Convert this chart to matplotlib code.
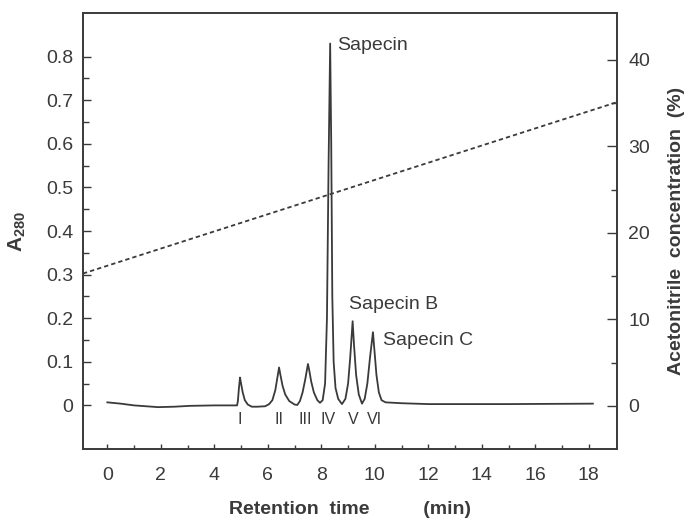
import matplotlib.pyplot as plt
import numpy as np

plt.rcParams['font.family'] = ['Liberation Sans', 'DejaVu Sans']

# chromatogram trace (time in min, A280)
time = [0, 0.5, 1.0, 1.9, 2.5, 3.1, 4.0, 4.85,
        4.88, 4.92, 4.96, 5.0, 5.06, 5.14, 5.25, 5.4, 5.6, 5.9, 6.05,
        6.17, 6.28, 6.36, 6.42, 6.47, 6.55, 6.65, 6.8, 7.0, 7.1,
        7.2, 7.3, 7.4, 7.5, 7.55, 7.62, 7.72, 7.85, 7.95, 8.05,
        8.14, 8.21, 8.27, 8.33, 8.37, 8.41, 8.46, 8.53, 8.63, 8.77,
        8.9, 9.0, 9.08, 9.17, 9.22, 9.3, 9.4, 9.52,
        9.62, 9.72, 9.82, 9.93, 9.98, 10.06, 10.15, 10.25, 10.4, 11, 12, 15, 18.15]
absorb = [0.007, 0.004, 0.0, -0.004, -0.003, -0.001, 0.0, 0.0,
          0.01, 0.04, 0.064, 0.05, 0.03, 0.012, 0.002, -0.003, -0.003, -0.002, 0.003,
          0.012, 0.035, 0.065, 0.087, 0.07, 0.045, 0.025, 0.01, 0.002, 0.001,
          0.01, 0.03, 0.06, 0.095, 0.08, 0.055, 0.03, 0.012, 0.006, 0.012,
          0.05, 0.2, 0.55, 0.83, 0.6, 0.25, 0.1, 0.04, 0.015, 0.003,
          0.015, 0.05, 0.11, 0.193, 0.14, 0.07, 0.025, 0.004,
          0.015, 0.05, 0.11, 0.168, 0.13, 0.07, 0.03, 0.012, 0.007, 0.005, 0.003, 0.003, 0.004]

# acetonitrile gradient (%)
grad_time = [-0.91, 19.05]
grad_conc = [15.3, 35.1]

peak_names = ['I', 'II', 'III', 'IV', 'V', 'VI']
peak_pos = [4.96, 6.42, 7.39, 8.25, 9.18, 9.97]

labels = ['Sapecin', 'Sapecin B', 'Sapecin C']
label_x = [8.59, 9.03, 10.3]
label_y = [0.825, 0.232, 0.149]

ink = '#3a3a3a'
fig = plt.figure(figsize=(6.87, 5.23), dpi=100)
ax = fig.add_axes([0.1208, 0.1415, 0.7772, 0.8336])
ax2 = ax.twinx()

ax.plot(time, absorb, color=ink, lw=1.3)
ax2.plot(grad_time, grad_conc, color=ink, lw=1.3, linestyle=(0, (2.4, 1.7)))

ax.set_xlim(-0.91, 19.05)
ax.set_ylim(-0.1, 0.9)
ax2.set_ylim(-4.97, 45.4)

ax.set_xticks(np.arange(0, 19, 2))
ax.set_xticks(np.arange(1, 18, 2), minor=True)
ax.set_yticks(np.arange(0, 0.81, 0.1))
ax.set_yticklabels(['0'] + ['%.1f' % v for v in np.arange(0.1, 0.81, 0.1)])
ax.set_yticks(np.arange(0.05, 0.8, 0.1), minor=True)
ax2.set_yticks([0, 10, 20, 30, 40])
ax2.set_yticks([5, 15, 25, 35], minor=True)

ax.tick_params(axis='x', which='major', direction='in', length=3.5, width=1, pad=13,
               labelsize=14, colors=ink)
ax.tick_params(axis='x', which='minor', direction='in', length=3, width=1, colors=ink)
ax.tick_params(axis='y', which='major', direction='in', length=6, width=1, pad=7,
               labelsize=14, colors=ink)
ax.tick_params(axis='y', which='minor', direction='in', length=4, width=1, colors=ink)
ax2.tick_params(axis='y', which='major', direction='in', length=7, width=1, pad=8,
                labelsize=14, colors=ink)
ax2.tick_params(axis='y', which='minor', direction='in', length=4.5, width=1, colors=ink)

for a in (ax, ax2):
    for s in a.spines.values():
        s.set_color(ink)
        s.set_linewidth(1.2)

for name, x in zip(peak_names, peak_pos):
    ax.text(x, -0.032, name, ha='center', va='center', fontsize=11.5, color=ink)

for name, x, y in zip(labels, label_x, label_y):
    ax.text(x, y, name, ha='left', va='center', fontsize=14, color=ink)

ax.set_xlabel('Retention  time          (min)', fontsize=14, fontweight='bold',
              color=ink, labelpad=12)
ax.set_ylabel(r'A$_{\mathregular{280}}$', fontsize=15, fontweight='bold', color=ink,
              labelpad=13)
ax2.set_ylabel('Acetonitrile  concentration  (%)', fontsize=14, fontweight='bold',
               color=ink, labelpad=13)

fig.savefig('out.png', dpi=100)
